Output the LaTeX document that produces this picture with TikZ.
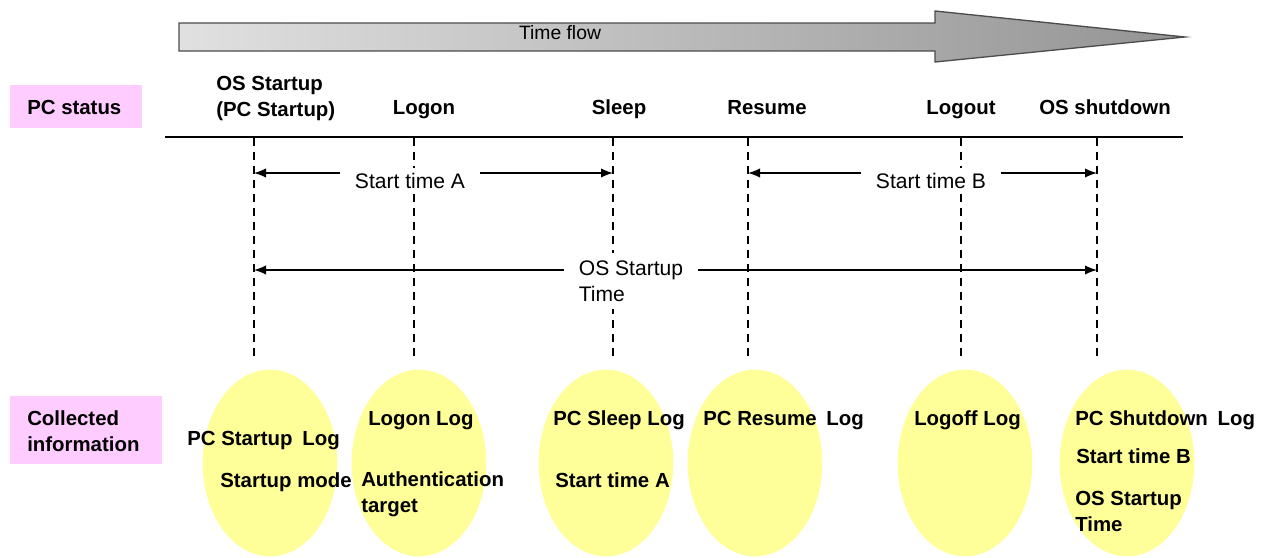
\documentclass[tikz,border=0pt]{standalone}
\usepackage{fontspec}
\setmainfont{Liberation Sans}
\usetikzlibrary{shapes.geometric,arrows.meta}
\definecolor{pinkbox}{RGB}{255,204,255}
\definecolor{yell}{RGB}{255,255,153}
\tikzset{
  lbl/.style={font=\fontsize{15.3}{19.5}\selectfont\bfseries, inner sep=0pt, align=left},
  one/.style={text height=11pt, text depth=0pt},
  plain/.style={font=\fontsize{15.8}{19.5}\selectfont, inner sep=0pt, align=left},
  pbox/.style={fill=pinkbox, draw=none, inner sep=0pt, anchor=north west},
  oval/.style={ellipse, fill=yell, draw=none, minimum width=101pt, minimum height=140pt, inner sep=0pt},
  vdash/.style={draw=black, line width=0.8pt, dash pattern=on 6pt off 4.5pt},
  dim/.style={draw=black, line width=1pt, {Latex[length=9pt,width=7pt]}-{Latex[length=9pt,width=7pt]}},
  gap/.style={plain, fill=white, inner xsep=11pt, inner ysep=4pt}
}
\begin{document}
\begin{tikzpicture}[x=0.75pt,y=-0.75pt]
\useasboundingbox (0,0) rectangle (1274,557);
% time flow arrow
\path[draw=black!70, line width=1pt, left color=black!12, right color=black!42, shading angle=90]
  (179,23) -- (935,23) -- (935,11) -- (1185,37) -- (935,62) -- (935,51) -- (179,51) -- cycle;
\node[plain, one, font=\fontsize{14.5}{15}\selectfont] (tf) at (560,32) {Time flow};
% pink boxes
\node[pbox, minimum width=99pt, minimum height=32pt] (pcs) at (10,85) {};
\node[lbl, one, anchor=west] (pcst) at (27,107) {PC status};
\node[pbox, minimum width=114pt, minimum height=51pt] (coll) at (10,396) {};
\node[lbl, anchor=west] (collt) at (27,431) {Collected\\information};
% baseline
\coordinate (hl) at (165,137);
\coordinate (hr) at (1183,137);
\draw[line width=1.2pt] (hl) -- (hr);
% status labels
\node[lbl, anchor=west] (s1) at (216,98) {OS Startup\\(PC Startup)};
\node[lbl, one] (s2) at (424,107) {Logon};
\node[lbl, one] (s3) at (619,107) {Sleep};
\node[lbl, one] (s4) at (767,107) {Resume};
\node[lbl, one] (s5) at (961,107) {Logout};
\node[lbl, one] (s6) at (1105,107) {OS shutdown};
% dashed verticals
\foreach \i/\x in {1/254,2/414,3/613,4/748,5/961,6/1097}{
  \coordinate (t\i) at (\x,138);
  \coordinate (b\i) at (\x,360);
  \draw[vdash] (t\i) -- (b\i);
}
% dimension arrows
\coordinate (a1) at (254,173);
\coordinate (a2) at (613,173);
\draw[dim] (a1) -- (a2);
\node[gap, one] (sta) at (410,181) {Start time A};
\coordinate (b1a) at (748,173);
\coordinate (b2a) at (1097,173);
\draw[dim] (b1a) -- (b2a);
\node[gap, one] (stb) at (931,181) {Start time B};
\coordinate (c1) at (254,270);
\coordinate (c2) at (1097,270);
\draw[dim] (c1) -- (c2);
\node[gap, inner ysep=6pt] (ost) at (631,281) {OS Startup\\Time};
% ellipses
\node[oval] (e1) at (270,463) {};
\node[oval] (e2) at (419,463) {};
\node[oval] (e3) at (606,463) {};
\node[oval] (e4) at (755,463) {};
\node[oval] (e5) at (965,463) {};
\node[oval] (e6) at (1127,463) {};
% collected texts
\node[lbl, one, anchor=west] (l1) at (187,438) {PC Startup\hspace{0.2em} Log};
\node[lbl, one, anchor=west] (l1b) at (220,480) {Startup mode};
\node[lbl, one, anchor=west] (l2) at (368,418) {Logon Log};
\node[lbl, anchor=west] (l2b) at (361,494) {Authentication\\target};
\node[lbl, one, anchor=west] (l3) at (553,418) {PC Sleep Log};
\node[lbl, one, anchor=west] (l3b) at (555,480) {Start time A};
\node[lbl, one, anchor=west] (l4) at (703,418) {PC Resume\hspace{0.2em} Log};
\node[lbl, one, anchor=west] (l5) at (914,418) {Logoff Log};
\node[lbl, one, anchor=west] (l6) at (1075,418) {PC Shutdown\hspace{0.2em} Log};
\node[lbl, one, anchor=west] (l6b) at (1076,456) {Start time B};
\node[lbl, anchor=west] (l6c) at (1075,511) {OS Startup\\Time};
\end{tikzpicture}
\end{document}
